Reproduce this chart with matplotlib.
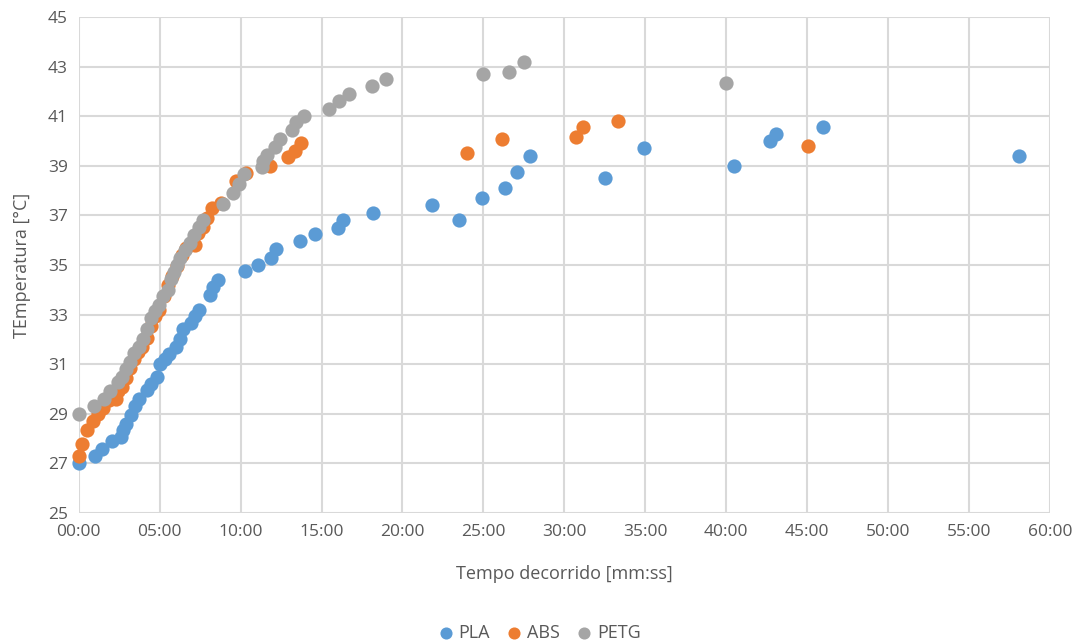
import matplotlib
matplotlib.use("Agg")
import matplotlib.pyplot as plt

# elapsed time in minutes, temperature in °C
pla_t = [0.0, 1.0, 1.45, 2.05, 2.6, 2.7, 2.9, 3.2, 3.45, 3.7, 4.2, 4.45, 4.85, 5.0, 5.3,
         5.6, 6.0, 6.25, 6.45, 6.95, 7.15, 7.45, 8.1, 8.3, 8.6, 10.25, 11.05, 11.9, 12.2,
         13.65, 14.6, 16.0, 16.3, 18.15, 21.8, 23.5, 24.9, 26.35, 27.05, 27.9, 32.5, 34.9,
         40.5, 42.7, 43.1, 46.0, 58.1]
pla_T = [27.0, 27.3, 27.6, 27.9, 28.05, 28.35, 28.6, 28.95, 29.3, 29.6, 29.95, 30.2, 30.5, 31.0, 31.2,
         31.4, 31.7, 32.0, 32.4, 32.65, 32.95, 33.2, 33.8, 34.1, 34.4, 34.75, 35.0, 35.3, 35.65,
         35.95, 36.25, 36.5, 36.8, 37.1, 37.42, 36.8, 37.7, 38.1, 38.76, 39.38, 38.5, 39.7,
         39.0, 40.0, 40.27, 40.58, 39.4]

abs_t = [0.0, 0.2, 0.5, 0.85, 1.2, 1.5, 1.85, 2.3, 2.4, 2.65, 2.9, 3.15, 3.4, 3.65, 3.9,
         4.2, 4.45, 4.7, 4.95, 5.25, 5.5, 5.75, 6.05, 6.35, 6.65, 7.15, 7.35, 7.65, 7.95,
         8.25, 8.8, 9.7, 10.3, 11.8, 12.9, 13.35, 13.75, 24.0, 26.15, 30.75, 31.17, 33.33, 45.08]
abs_T = [27.3, 27.8, 28.35, 28.7, 29.0, 29.25, 29.55, 29.6, 29.9, 30.1, 30.45, 30.85, 31.2, 31.5, 31.7,
         32.05, 32.55, 32.95, 33.2, 33.75, 34.2, 34.55, 34.95, 35.4, 35.7, 35.8, 36.3, 36.55, 36.9,
         37.3, 37.5, 38.4, 38.7, 39.0, 39.35, 39.6, 39.9, 39.5, 40.1, 40.17, 40.58, 40.8, 39.79]

petg_t = [0.0, 0.95, 1.55, 1.9, 2.4, 2.65, 2.9, 3.15, 3.4, 3.7, 3.95, 4.2, 4.45, 4.7, 4.95,
          5.2, 5.5, 5.7, 5.85, 6.05, 6.25, 6.55, 6.85, 7.1, 7.4, 7.7, 8.9, 9.55, 9.9, 10.2,
          11.3, 11.4, 11.65, 12.1, 12.45, 13.2, 13.45, 13.9, 15.45, 16.1, 16.7, 18.1, 19.0,
          25.0, 26.6, 27.5, 40.0]
petg_T = [29.0, 29.3, 29.6, 29.9, 30.3, 30.5, 30.8, 31.1, 31.45, 31.7, 32.0, 32.4, 32.85, 33.15, 33.4,
          33.75, 34.0, 34.45, 34.7, 35.0, 35.3, 35.6, 35.9, 36.2, 36.55, 36.8, 37.45, 37.9, 38.25, 38.65,
          38.95, 39.2, 39.45, 39.75, 40.1, 40.45, 40.75, 41.0, 41.3, 41.6, 41.9, 42.2, 42.5,
          42.7, 42.8, 43.2, 42.33]

x_ticks = [0, 5, 10, 15, 20, 25, 30, 35, 40, 45, 50, 55, 60]
x_labels = ["00:00", "05:00", "10:00", "15:00", "20:00", "25:00", "30:00",
            "35:00", "40:00", "45:00", "50:00", "55:00", "60:00"]
y_ticks = [25, 27, 29, 31, 33, 35, 37, 39, 41, 43, 45]

plt.rcParams["font.family"] = ["Open Sans", "DejaVu Sans"]
txt = "#595959"

fig = plt.figure(figsize=(10.8, 6.42), dpi=100)
ax = fig.add_axes([0.073, 0.2009, 0.899, 0.7726])

ax.scatter(pla_t, pla_T, s=105, color="#5B9BD5", label="PLA", zorder=3, linewidths=0, clip_on=False)
ax.scatter(abs_t, abs_T, s=105, color="#ED7D31", label="ABS", zorder=4, linewidths=0, clip_on=False)
ax.scatter(petg_t, petg_T, s=105, color="#A5A5A5", label="PETG", zorder=5, linewidths=0, clip_on=False)

ax.set_xlim(0, 60)
ax.set_ylim(25, 45)
ax.set_xticks(x_ticks)
ax.set_xticklabels(x_labels)
ax.set_yticks(y_ticks)
ax.grid(True, color="#D9D9D9", linewidth=1.5, zorder=0)
ax.set_axisbelow(True)
for s in ax.spines.values():
    s.set_visible(False)
ax.tick_params(length=0, labelsize=12.5, colors=txt, pad=8)

ax.set_xlabel("Tempo decorrido [mm:ss]", fontsize=13, color=txt, labelpad=18)
ax.set_ylabel("TEmperatura [°C]", fontsize=13, color=txt, labelpad=12)

fig.legend(loc="lower center", bbox_to_anchor=(0.5, -0.025), ncol=3, frameon=False,
           fontsize=13, labelcolor=txt, handlelength=0.7, handletextpad=0.35,
           columnspacing=1.0, markerscale=0.85)

fig.savefig("out.png", dpi=100)
